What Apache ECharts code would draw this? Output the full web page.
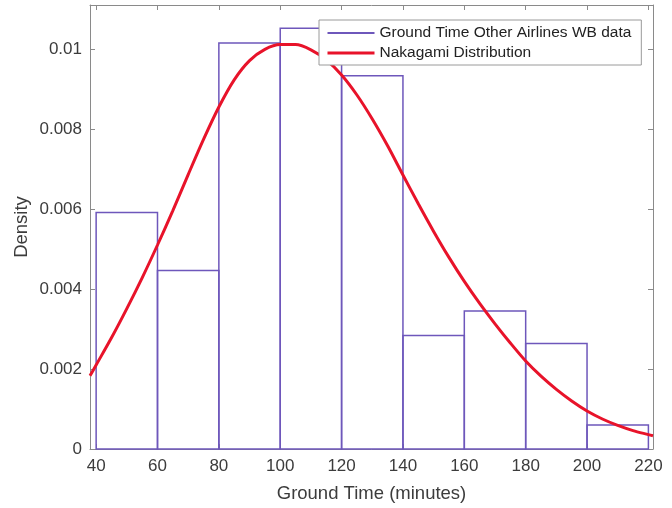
<!DOCTYPE html>
<html>
<head>
<meta charset="utf-8">
<script src="https://cdn.jsdelivr.net/npm/echarts@6/dist/echarts.min.js"></script>
<style>
  html, body { margin: 0; padding: 0; background: #fff; }
  #chart { width: 672px; height: 508px; }
</style>
</head>
<body>
<div id="chart"></div>
<script>
// Histogram bins (minutes) and their normalised densities
const binStarts = [40, 60, 80, 100, 120, 140, 160, 180, 200];
const binWidth = 20;
const densities = [0.00591, 0.00446, 0.01015, 0.01052, 0.00933, 0.00284, 0.00345, 0.00264, 0.0006];

// Fitted Nakagami density, sampled every 5 minutes across the axis range
const fitX = [38, 40, 45, 50, 55, 60, 65, 70, 75, 80, 85, 90, 95, 100, 105, 110, 115, 120, 125, 130,
              135, 140, 145, 150, 155, 160, 165, 170, 175, 180, 185, 190, 195, 200, 205, 210, 215, 220, 221.5];
const fitY = [0.00183, 0.0021, 0.00278, 0.00351, 0.00428, 0.0051, 0.00596, 0.00686, 0.00774, 0.00855,
              0.00923, 0.00971, 0.00999, 0.01011, 0.01011, 0.00998, 0.00973, 0.00935, 0.00885, 0.00825,
              0.00758, 0.00685, 0.00613, 0.00544, 0.00479, 0.00419, 0.00364, 0.00313, 0.00265, 0.0022,
              0.00182, 0.00149, 0.0012, 0.00095, 0.00075, 0.00059, 0.00046, 0.00036, 0.00033];

// Tick labels
const xTicks = [40, 60, 80, 100, 120, 140, 160, 180, 200, 220];
const yTicks = [0, 0.002, 0.004, 0.006, 0.008, 0.01];

const histName = 'Ground Time Other Airlines WB data';
const fitName = 'Nakagami Distribution';

const purple = '#6e57bb';
const red = '#e8132a';
const axisGray = '#8a8a8a';
const textGray = '#3c3c3c';
const font = 'Liberation Sans, Arial, sans-serif';

const chart = echarts.init(document.getElementById('chart'));

const histData = binStarts.map((s, i) => [s, s + binWidth, densities[i]]);
const fitData = fitX.map((x, i) => [x, fitY[i]]);

const axisCommon = {
  type: 'value',
  axisLine: { show: true, onZero: false, lineStyle: { color: axisGray, width: 1 } },
  axisTick: { show: true, inside: true, length: 5, lineStyle: { color: axisGray } },
  splitLine: { show: false }
};

chart.setOption({
  animation: false,
  backgroundColor: '#fff',
  grid: { left: 90, right: 19, top: 5, bottom: 58, containLabel: false },
  legend: {
    orient: 'vertical',
    left: 319,
    top: 20,
    padding: [4, 10, 3, 7],
    borderColor: '#9a9a9a',
    borderWidth: 1,
    backgroundColor: '#fff',
    itemWidth: 47,
    itemHeight: 2,
    itemGap: 2,
    textStyle: { fontFamily: font, fontSize: 15.5, color: '#222', lineHeight: 18 },
    data: [
      { name: histName, icon: 'rect', itemStyle: { color: purple } },
      { name: fitName, lineStyle: { width: 3, color: red } }
    ]
  },
  xAxis: [
    Object.assign({}, axisCommon, {
      min: 38, max: 221.5,
      position: 'bottom',
      name: 'Ground Time (minutes)',
      nameLocation: 'middle',
      nameGap: 35,
      nameTextStyle: { fontFamily: font, fontSize: 18.5, color: textGray },
      axisTick: Object.assign({}, axisCommon.axisTick, { customValues: xTicks }),
      axisLabel: { customValues: xTicks, margin: 9, fontFamily: font, fontSize: 17, color: textGray }
    }),
    Object.assign({}, axisCommon, {
      min: 38, max: 221.5,
      position: 'top',
      axisTick: Object.assign({}, axisCommon.axisTick, { customValues: xTicks }),
      axisLabel: { show: false }
    })
  ],
  yAxis: [
    Object.assign({}, axisCommon, {
      min: 0, max: 0.0111,
      position: 'left',
      name: 'Density',
      nameLocation: 'middle',
      nameGap: 59,
      nameMoveOverlap: false,
      nameTextStyle: { fontFamily: font, fontSize: 18.5, color: textGray },
      axisTick: Object.assign({}, axisCommon.axisTick, { customValues: yTicks }),
      axisLabel: { customValues: yTicks, margin: 8, fontFamily: font, fontSize: 17, color: textGray }
    }),
    Object.assign({}, axisCommon, {
      min: 0, max: 0.0111,
      position: 'right',
      axisTick: Object.assign({}, axisCommon.axisTick, { customValues: yTicks }),
      axisLabel: { show: false }
    })
  ],
  series: [
    {
      name: histName,
      type: 'custom',
      xAxisIndex: 0,
      yAxisIndex: 0,
      data: histData,
      encode: { x: [0, 1], y: 2 },
      renderItem: function (params, api) {
        const p0 = api.coord([api.value(0), api.value(2)]);
        const p1 = api.coord([api.value(1), 0]);
        return {
          type: 'rect',
          shape: { x: p0[0], y: p0[1], width: p1[0] - p0[0], height: p1[1] - p0[1] },
          style: { fill: 'rgba(255,255,255,0)', stroke: purple, lineWidth: 1.5 }
        };
      },
      z: 2
    },
    {
      name: fitName,
      type: 'line',
      xAxisIndex: 0,
      yAxisIndex: 0,
      data: fitData,
      smooth: 0.3,
      symbol: 'none',
      lineStyle: { color: red, width: 3 },
      itemStyle: { color: red },
      z: 3
    }
  ]
});
</script>
</body>
</html>
